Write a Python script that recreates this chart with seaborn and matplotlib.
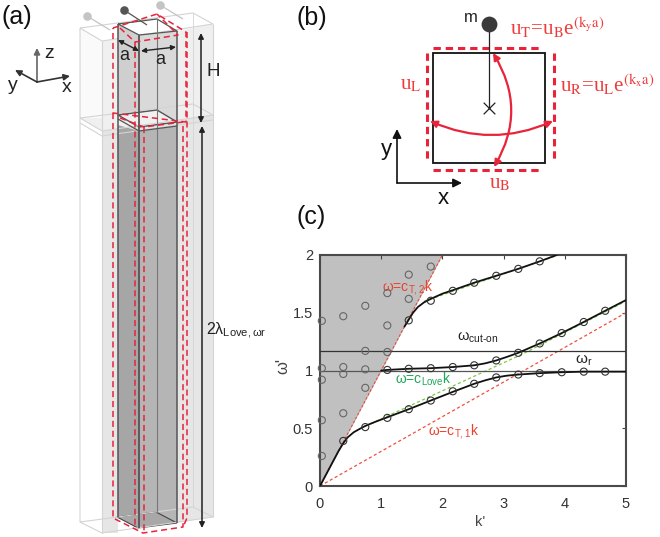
import numpy as np
import pandas as pd
import matplotlib
matplotlib.use('Agg')
import matplotlib.pyplot as plt
import seaborn as sns
from matplotlib.patches import FancyArrowPatch, Polygon, Rectangle

# datos, panel (c)
k_low = [0.38, 0.74, 1.10, 1.45, 1.81, 2.17, 2.52, 2.88, 3.24, 3.59, 3.95, 4.31, 4.66]
w_low = [0.39, 0.51, 0.59, 0.665, 0.74, 0.82, 0.885, 0.94, 0.965, 0.977, 0.985, 0.99, 0.99]
k_mid = [1.10, 1.45, 1.81, 2.17, 2.52, 2.88, 3.24, 3.59, 3.95, 4.31, 4.66]
w_mid = [1.005, 1.015, 1.02, 1.03, 1.045, 1.087, 1.153, 1.234, 1.324, 1.42, 1.517]
k_up = [1.45, 1.81, 2.17, 2.52, 2.88, 3.24, 3.59]
w_up = [1.434, 1.604, 1.69, 1.76, 1.82, 1.88, 1.945]
k_cone = [0.03, 0.03, 0.03, 0.03, 0.03, 0.38, 0.38, 0.38, 0.38, 0.74, 0.74, 0.74, 0.74, 1.10, 1.10, 1.10, 1.45, 1.45, 1.81]
w_cone = [0.26, 0.57, 0.92, 1.02, 1.43, 0.63, 0.97, 1.03, 1.47, 0.85, 1.01, 1.17, 1.56, 1.16, 1.39, 1.67, 1.62, 1.83, 1.90]

# curvas negras
line_low_k = [0, 0.1, 0.2, 0.3, 0.38, 0.45, 0.55, 0.65, 0.74, 0.9, 1.1, 1.45, 1.81, 2.17, 2.52, 2.7, 2.88, 3.05, 3.24, 3.59, 3.95, 4.31, 5]
line_low_w = [0, 0.1, 0.2, 0.3, 0.37, 0.42, 0.465, 0.495, 0.52, 0.555, 0.595, 0.665, 0.74, 0.815, 0.885, 0.915, 0.94, 0.955, 0.965, 0.977, 0.985, 0.99, 0.99]
line_mid_k = [1.0, 1.1, 1.45, 1.81, 2.17, 2.52, 2.7, 2.88, 3.05, 3.24, 3.59, 3.95, 4.31, 4.66, 5]
line_mid_w = [1.0, 1.005, 1.015, 1.02, 1.03, 1.045, 1.062, 1.087, 1.117, 1.153, 1.234, 1.324, 1.42, 1.517, 1.61]
line_up_k = [1.38, 1.45, 1.52, 1.6, 1.7, 1.81, 2.0, 2.17, 2.52, 2.88, 3.24, 3.59, 3.87]
line_up_w = [1.38, 1.44, 1.5, 1.55, 1.59, 1.62, 1.665, 1.695, 1.76, 1.82, 1.88, 1.945, 2.0]

# rectas de referencia
ct1_k, ct1_w = [0, 5], [0, 1.5]
ct2_k, ct2_w = [0, 2], [0, 2]
love_k, love_w = [0.75, 3.3, 5], [0.52, 1.14, 1.6]
love2_k, love2_w = [1.7, 3.9], [1.6, 2.0]
w_cut_on = 1.17
w_r = 1.0

x_ticks = [0, 1, 2, 3, 4, 5]
y_ticks = [0, 0.5, 1, 1.5, 2]
y_labels = ['0', '0.5', '1', '1.5', '2']

RED = '#e8233a'
TXT_RED = '#ee3a3a'

sns.set_theme(style='white')
plt.rcParams['font.family'] = ['Liberation Sans', 'DejaVu Sans']
plt.rcParams['mathtext.fontset'] = 'custom'
plt.rcParams['mathtext.rm'] = 'Liberation Sans'
plt.rcParams['mathtext.it'] = 'Liberation Sans'

fig = plt.figure(figsize=(6.6, 5.37), dpi=100)

# ---- lienzo en pixeles para los esquemas (a) y (b)
bg = fig.add_axes([0, 0, 1, 1])
bg.set_xlim(0, 660)
bg.set_ylim(537, 0)
bg.axis('off')


def poly(pts, fc, ec='none', lw=0.8, z=1, alpha=1):
    bg.add_patch(Polygon(pts, closed=True, fc=fc, ec=ec, lw=lw, zorder=z, alpha=alpha))


def seg(pts, color, lw=1.0, ls='-', z=3, alpha=1):
    xs, ys = zip(*pts)
    bg.plot(xs, ys, color=color, lw=lw, ls=ls, zorder=z, alpha=alpha, solid_capstyle='butt')


def arrow(a, b, color='#222222', lw=1.2, style='-|>', ms=9, rad=0.0, z=5):
    bg.add_patch(FancyArrowPatch(a, b, arrowstyle=style, mutation_scale=ms, color=color, lw=lw,
                                 shrinkA=0, shrinkB=0, zorder=z,
                                 connectionstyle=f'arc3,rad={rad}'))


# --- panel (a)
# caras de las cajas exteriores
poly([(102, 41), (118, 39), (118, 131), (102, 131)], '#f0f0f0')
poly([(177, 31), (213, 24), (213, 115), (177, 122)], '#efefef')
poly([(102, 136), (118, 134), (118, 533), (102, 533)], '#e6e6e6')
poly([(177, 126), (213, 120), (213, 517), (177, 523)], '#e6e6e6')
poly([(80, 118), (102, 131), (213, 115), (193, 104)], '#f0f0f0', z=1)
poly([(102, 131), (213, 115), (213, 121), (102, 137)], '#e4e4e4', z=1)
poly([(80, 28), (102, 41), (102, 118), (80, 118)], '#fafafa')

# columna central
poly([(118, 24), (139, 35), (139, 127), (118, 115)], '#cfcfcf', z=2)
poly([(139, 35), (177, 31), (177, 122), (139, 127)], '#d9d9d9', z=2)
poly([(118, 115), (139, 127), (177, 122), (157, 110)], '#f0f0f0', '#555555', 1.0, z=2)
poly([(118, 125), (139, 131), (139, 528), (118, 517)], '#a6a6a6', z=2)
poly([(139, 131), (177, 126), (177, 523), (139, 528)], '#b5b5b5', z=2)
poly([(117, 517), (138, 528), (177, 523), (156, 512)], '#a8a8a8', '#444444', 0.8, z=2)

# aristas exteriores
edge = '#d4d4d4'
seg([(80, 28), (102, 41), (213, 24), (193, 13), (80, 28)], edge, 0.8)
seg([(80, 28), (80, 522), (102, 533), (213, 517), (193, 507), (80, 522)], edge, 0.8)
seg([(102, 41), (102, 533)], edge, 0.8)
seg([(213, 24), (213, 517)], edge, 0.8)
seg([(193, 13), (193, 507)], edge, 0.6)
seg([(80, 118), (102, 131), (213, 115), (193, 104), (80, 118)], edge, 0.8)
seg([(80, 123), (102, 136), (213, 120)], edge, 0.8)

# aristas de la columna
dark = '#555555'
seg([(118, 24), (139, 35), (177, 31), (157, 19), (118, 24)], dark, 0.9, z=3)
seg([(118, 24), (118, 517)], dark, 1.1, z=3)
seg([(139, 35), (139, 528)], dark, 1.3, z=3)
seg([(177, 31), (177, 523)], dark, 1.1, z=3)
seg([(157, 19), (157, 512)], '#777777', 0.8, z=3)
seg([(118, 119), (139, 131), (177, 126)], dark, 0.9, z=3)

# celda en rojo a trazos
dash = (0, (4, 2.5))
seg([(113, 28), (157, 14), (186, 32), (186, 122), (113, 113), (113, 28)], RED, 1.1, dash, z=4)
seg([(120, 28), (135, 42), (178, 35), (157, 14)], RED, 1.1, dash, z=4)
seg([(135, 42), (135, 528)], RED, 1.1, dash, z=4)
seg([(113, 113), (113, 518), (143, 533), (183, 527), (183, 122)], RED, 1.1, dash, z=4)
seg([(144, 127), (144, 533)], RED, 1.1, dash, z=4)
seg([(187, 32), (187, 518), (183, 527)], RED, 1.1, dash, z=4)
seg([(120, 118), (144, 127), (183, 122)], RED, 1.1, dash, z=4)

# masas
for pos, end, col in [((87, 16), (110, 30), '#c4c4c4'), ((124, 10), (147, 25), '#555555'), ((160, 5), (183, 19), '#c4c4c4')]:
    seg([pos, end], col, 0.9, z=4)
    bg.scatter(*pos, s=38, color=col, zorder=5, linewidths=0)

# cotas
arrow((118, 40), (139, 51), style='<|-|>', ms=7, lw=1.0)
arrow((141, 51), (176, 47), style='<|-|>', ms=7, lw=1.0)
bg.text(124, 56, 'a', fontsize=13, ha='center', va='center', color='#222222')
bg.text(160, 59, 'a', fontsize=13, ha='center', va='center', color='#222222')
arrow((201, 33), (201, 123), style='<|-|>', ms=8, lw=1.1)
arrow((202, 126), (202, 528), style='<|-|>', ms=8, lw=1.1, z=6)
bg.text(213, 72, 'H', fontsize=13.5, ha='center', va='center', color='#222222')
bg.text(206, 331, r'2$\lambda_{\mathrm{Love,}\omega\mathrm{r}}$', fontsize=11.5, ha='left', va='center',
        color='#222222', zorder=7)

# ejes xyz
arrow((37, 82), (37, 48), color='#666666', ms=9)
arrow((37, 82), (70, 76), color='#333333', ms=9)
arrow((37, 82), (15, 70), color='#333333', ms=9)
bg.text(49, 54, 'z', fontsize=14, ha='center', va='center', color='#222222')
bg.text(67, 87, 'x', fontsize=14, ha='center', va='center', color='#222222')
bg.text(13, 85, 'y', fontsize=14, ha='center', va='center', color='#222222')
bg.text(17, 17, '(a)', fontsize=18, ha='center', va='center', color='#111111')

# --- panel (b)
bg.add_patch(Rectangle((433, 53), 112, 110, fc='none', ec='#111111', lw=1.3, zorder=3))
thick = (0, (2.4, 1.6))
seg([(433, 48), (541, 48)], RED, 2.2, thick)
seg([(433, 170), (541, 170)], RED, 2.2, thick)
seg([(427, 53), (427, 160)], RED, 2.2, thick)
seg([(554, 53), (554, 160)], RED, 2.2, thick)
seg([(489, 24), (489, 108)], '#222222', 0.9)
bg.scatter(489, 24, s=130, color='#3a3a3a', zorder=5, linewidths=0)
bg.scatter(489, 108, s=70, marker='x', color='#222222', linewidths=0.9, zorder=5)
arrow((430, 121), (553, 121), color=RED, lw=1.6, style='<|-|>', ms=10, rad=0.22)
arrow((493, 53), (494, 167), color=RED, lw=1.6, style='<|-|>', ms=10, rad=-0.3)
arrow((397, 183), (397, 129), color='#111111', lw=1.2, ms=13)
arrow((397, 183), (462, 183), color='#111111', lw=1.2, ms=13)
bg.text(386, 149, 'y', fontsize=16, ha='center', va='center', color='#111111')
bg.text(443, 199, 'x', fontsize=16, ha='center', va='center', color='#111111')
bg.text(471, 17, 'm', fontsize=12, ha='center', va='center', color='#222222')
bg.text(312, 18, '(b)', fontsize=18, ha='center', va='center', color='#111111')
bg.text(311, 217, '(c)', fontsize=18, ha='center', va='center', color='#111111')

for x, y, s, fs, ha in [(510, 28, r'u$_{\mathrm{T}}$=u$_{\mathrm{B}}$e$^{(\mathrm{k_y a})}$', 15, 'left'),
                        (560, 85, r'u$_{\mathrm{R}}$=u$_{\mathrm{L}}$e$^{(\mathrm{k_x a})}$', 15, 'left'),
                        (411, 85, r'u$_{\mathrm{L}}$', 15, 'center'),
                        (500, 184, r'u$_{\mathrm{B}}$', 15, 'center')]:
    bg.text(x, y, s, fontsize=fs, ha=ha, va='center', color=TXT_RED, family='Liberation Serif',
            math_fontfamily='stix')

# --- panel (c), ejes del propio grafico
L, R, T, B = 320, 626, 255, 486
ax = fig.add_axes([L / 660, 1 - B / 537, (R - L) / 660, (B - T) / 537])
ax.patch.set_alpha(0)
ax.fill_between([0, 2], [0, 2], [2, 2], color='#c0c0c0', lw=0, zorder=0)

sns.lineplot(x=ct2_k, y=ct2_w, ax=ax, color='#e2503c', lw=0.8, ls=(0, (2.5, 1.5)), zorder=2)
sns.lineplot(x=ct1_k, y=ct1_w, ax=ax, color='#f0503c', lw=0.9, ls=(0, (2.5, 2)), zorder=2)
sns.lineplot(x=love_k, y=love_w, ax=ax, color='#7cc843', lw=0.9, ls=(0, (2.5, 2)), zorder=2)
sns.lineplot(x=love2_k, y=love2_w, ax=ax, color='#7cc843', lw=0.9, ls=(0, (2.5, 2)), zorder=2)
ax.axhline(w_cut_on, color='#333333', lw=0.9, zorder=3)
ax.axhline(w_r, color='#555555', lw=0.9, zorder=3)

for xs, ys in [(line_low_k, line_low_w), (line_mid_k, line_mid_w), (line_up_k, line_up_w)]:
    sns.lineplot(data=pd.DataFrame({'k': xs, 'w': ys}), x='k', y='w', ax=ax, color='#111111',
                 lw=1.3, sort=False, zorder=4)

puntos = pd.DataFrame({'k': k_low + k_mid + k_up, 'w': w_low + w_mid + w_up})
sns.scatterplot(data=puntos, x='k', y='w', ax=ax, s=26, facecolor='none', edgecolor='#333333',
                linewidth=0.8, zorder=5, clip_on=False)
cono = pd.DataFrame({'k': k_cone, 'w': w_cone})
sns.scatterplot(data=cono, x='k', y='w', ax=ax, s=26, facecolor='none', edgecolor='#666666',
                linewidth=0.8, zorder=5, clip_on=False)

ax.set_xlim(0, 5)
ax.set_ylim(0, 2)
ax.set_xticks(x_ticks)
ax.set_yticks(y_ticks)
ax.set_yticklabels(y_labels)
ax.tick_params(direction='in', length=3, width=0.8, color='#444444', top=True, right=True,
               labelsize=10.5, labelcolor='#333333')
ax.tick_params(axis='x', pad=8)
ax.tick_params(axis='y', pad=5)
ax.set_xlabel("k'", fontsize=10.5, color='#444444', labelpad=3, x=0.523)
ax.set_ylabel("ω'", fontsize=12, color='#444444', labelpad=2, y=0.52)
for s in ax.spines.values():
    s.set_color('#4a4a4a')
    s.set_linewidth(1.5)

ax.text(1.02, 1.72, r'ω=c$_{\mathrm{T,2}}$k', color='#e8432e', fontsize=10, va='center')
ax.text(1.77, 0.47, r'ω=c$_{\mathrm{T,1}}$k', color='#e8432e', fontsize=10, va='center')
ax.text(1.22, 0.92, r'ω=c$_{\mathrm{Love}}$k', color='#1fa75a', fontsize=10, va='center')
ax.text(2.24, 1.28, r'ω$_{\mathrm{cut\text{-}on}}$', color='#222222', fontsize=10.5, va='center')
ax.text(4.16, 1.08, r'ω$_{\mathrm{r}}$', color='#222222', fontsize=11, va='center')

fig.savefig('out.png', dpi=100)
